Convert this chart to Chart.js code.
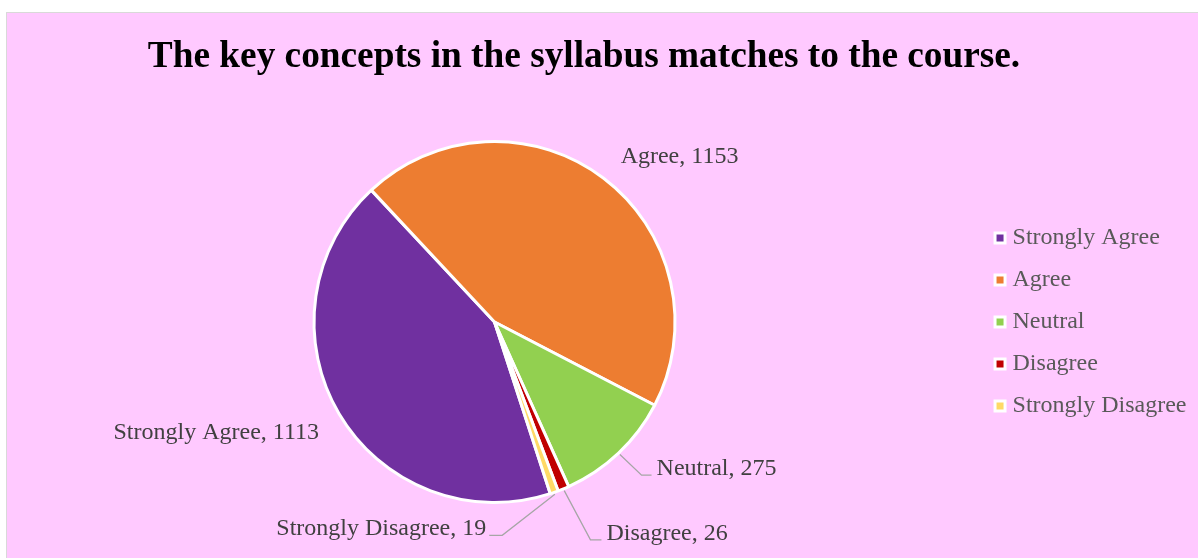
<!DOCTYPE html>
<html>
<head>
<meta charset="utf-8">
<script src="https://cdn.jsdelivr.net/npm/chart.js@4.4.1/dist/chart.umd.min.js"></script>
<style>
  html, body { margin: 0; padding: 0; background: #ffffff; }
  #frame {
    position: absolute; left: 6px; top: 12px;
    width: 1191px; height: 545px;
    border-left: 1px solid #d9d9d9; border-top: 1px solid #d9d9d9;
    background: #ffc9ff;
  }
</style>
</head>
<body>
<div id="frame"><canvas id="mypie" width="1191" height="545"></canvas></div>
<script>
// answers to "The key concepts in the syllabus matches to the course."
const chartTitle = 'The key concepts in the syllabus matches to the course.'
const categories = ['Strongly Agree', 'Agree', 'Neutral', 'Disagree', 'Strongly Disagree']
const responses = [1113, 1153, 275, 26, 19]
const sliceColors = ['#7030a0', '#ed7d31', '#92d050', '#c00000', '#ffd966']

// where each data label sits, relative to the middle of its slice's rim
const labelLayout = [
    { dx: -20, dy: 19, align: 'right' },
    { dx: 17, dy: -22, align: 'left' },
    { dx: 38, dy: 16, align: 'left', bend: [23, 22], tail: 10 },
    { dx: 43, dy: 45, align: 'left', bend: [27, 51], tail: 11 },
    { dx: -68, dy: 36, align: 'right', bend: [-52, 43], tail: -13 }
]

const serif = '"Liberation Serif", "Times New Roman", serif'

// title sits off-centre (over pie + legend), so draw it here
const titlePlugin = {
    id: 'titlePlugin',
    afterDraw(chart) {
        const ctx = chart.ctx
        ctx.save()
        ctx.font = 'bold 37.3px ' + serif
        ctx.fillStyle = '#000000'
        ctx.textAlign = 'center'
        ctx.textBaseline = 'middle'
        ctx.fillText(chartTitle, (chart.width - 37) / 2, 44)
        ctx.restore()
    }
}

const sliceLabels = {
    id: 'sliceLabels',
    afterDatasetsDraw(chart) {
        const ctx = chart.ctx
        const meta = chart.getDatasetMeta(0)
        ctx.save()
        ctx.font = '24px ' + serif
        ctx.textBaseline = 'middle'
        meta.data.forEach(function(arc, i) {
            const p = arc.getProps(['x', 'y', 'startAngle', 'endAngle', 'outerRadius'], true)
            const mid = (p.startAngle + p.endAngle) / 2
            const ex = p.x + Math.cos(mid) * p.outerRadius
            const ey = p.y + Math.sin(mid) * p.outerRadius
            const lay = labelLayout[i]
            if (lay.bend) {
                ctx.strokeStyle = '#a6a6a6'
                ctx.lineWidth = 1.3
                ctx.beginPath()
                ctx.moveTo(ex + Math.cos(mid) * 2, ey + Math.sin(mid) * 2)
                ctx.lineTo(ex + lay.bend[0], ey + lay.bend[1])
                ctx.lineTo(ex + lay.bend[0] + lay.tail, ey + lay.bend[1])
                ctx.stroke()
            }
            ctx.fillStyle = '#404040'
            ctx.textAlign = lay.align
            ctx.fillText(categories[i] + ', ' + responses[i], ex + lay.dx, ey + lay.dy)
        })
        ctx.restore()
    }
}

function drawpie(){
    const canvasforpie = document.getElementById('mypie')
    new Chart(canvasforpie, {
        type: 'pie',
        data: {
            labels: categories,
            datasets: [{
                data: responses,
                backgroundColor: sliceColors,
                borderColor: '#ffffff',
                borderWidth: 3
            }]
        },
        options: {
            responsive: false,
            animation: false,
            rotation: 162,
            layout: {
                padding: { left: 0.5, right: 1.5, top: 127, bottom: 54 }
            },
            plugins: {
                title: { display: false },
                legend: {
                    position: 'right',
                    fullSize: false,
                    labels: {
                        usePointStyle: true,
                        pointStyle: 'rect',
                        boxWidth: 1,
                        boxHeight: 10,
                        padding: 18,
                        color: '#595959',
                        font: { family: serif, size: 24 }
                    }
                },
                tooltip: { enabled: false }
            }
        },
        plugins: [sliceLabels, titlePlugin]
    })
}

drawpie()
</script>
</body>
</html>
